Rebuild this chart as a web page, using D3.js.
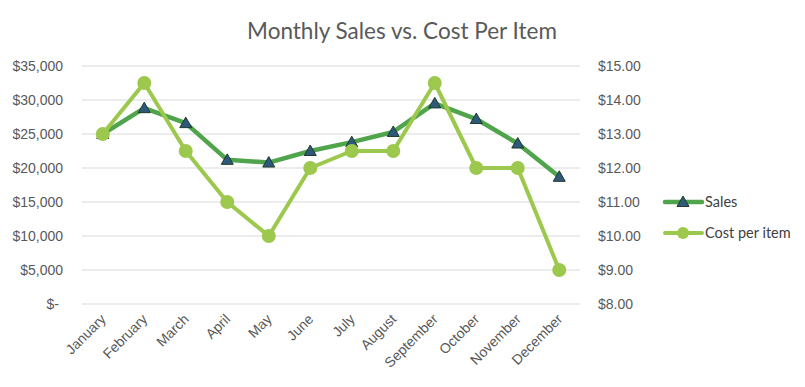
<!DOCTYPE html>
<html><head><meta charset="utf-8">
<script src="https://cdn.jsdelivr.net/npm/d3@7"></script>
<style>body{margin:0;background:#fff}svg{display:block}</style>
</head><body>
<script>
const months = ["January","February","March","April","May","June","July","August","September","October","November","December"];
const sales = [25000,28800,26600,21200,20800,22500,23800,25300,29500,27200,23600,18700];
const costPerItem = [13.0,14.5,12.5,11.0,10.0,12.0,12.5,12.5,14.5,12.0,12.0,9.0];
const leftTicks = [0,5000,10000,15000,20000,25000,30000,35000];
const rightTicks = [8,9,10,11,12,13,14,15];
const seriesNames = ["Sales","Cost per item"];

const W=805,H=387;
const salesColor="#50A44B", costColor="#9DC84E", triFill="#2D5A7A", triStroke="#1F3A2A";
const svg=d3.select("body").append("svg").attr("width",W).attr("height",H);
const x=d3.scaleBand().domain(months).range([82,580]);
const yL=d3.scaleLinear().domain([0,35000]).range([304,66]);
const yR=d3.scaleLinear().domain([8,15]).range([304,66]);
const cx=m=>x(m)+x.bandwidth()/2;

svg.append("text").attr("x",402).attr("y",39).attr("text-anchor","middle")
  .attr("font-family","Lato, 'Open Sans', sans-serif").attr("font-size",22.5).attr("fill","#595959")
  .text("Monthly Sales vs. Cost Per Item");

// gridlines
svg.append("g").selectAll("line").data(leftTicks).join("line")
  .attr("x1",82).attr("x2",580).attr("y1",d=>yL(d)).attr("y2",d=>yL(d))
  .attr("stroke","#D9D9D9").attr("stroke-width",1);

const fmtL=d=>d===0?"$-":"$"+d3.format(",")(d);
const gl=svg.append("g").attr("transform","translate(63,0)")
  .call(d3.axisLeft(yL).tickValues(leftTicks).tickFormat(fmtL).tickSize(0).tickPadding(0));
gl.select(".domain").remove();
gl.selectAll("text").attr("font-family","'Liberation Sans', Arial, sans-serif").attr("font-size",14).attr("fill","#595959");
gl.selectAll(".tick").filter(d=>d===0).select("text").attr("dx",-4);

const gr=svg.append("g").attr("transform","translate(598,0)")
  .call(d3.axisRight(yR).tickValues(rightTicks).tickFormat(d=>"$"+d.toFixed(2)).tickSize(0).tickPadding(0));
gr.select(".domain").remove();
gr.selectAll("text").attr("font-family","'Liberation Sans', Arial, sans-serif").attr("font-size",14).attr("fill","#595959");

const gx=svg.append("g").attr("transform","translate(0,304)")
  .call(d3.axisBottom(x).tickSize(0).tickPadding(0));
gx.select(".domain").remove();
gx.selectAll("text").attr("font-family","'Liberation Sans', Arial, sans-serif").attr("font-size",14).attr("fill","#595959")
  .attr("text-anchor","end").attr("dy",0).attr("transform","translate(4,16) rotate(-45)");

// lines
const lineS=d3.line().x((d,i)=>cx(months[i])).y(d=>yL(d));
const lineC=d3.line().x((d,i)=>cx(months[i])).y(d=>yR(d));
svg.append("path").datum(sales).attr("d",lineS).attr("fill","none").attr("stroke",salesColor).attr("stroke-width",4.5).attr("stroke-linejoin","round");
svg.append("path").datum(costPerItem).attr("d",lineC).attr("fill","none").attr("stroke",costColor).attr("stroke-width",4).attr("stroke-linejoin","round");

const tri=(s)=>`M0,${-s*0.6}L${s*0.6},${s*0.45}L${-s*0.6},${s*0.45}Z`;
svg.append("g").selectAll("path").data(sales).join("path")
  .attr("d",tri(10)).attr("transform",(d,i)=>`translate(${cx(months[i])},${yL(d)})`)
  .attr("fill",triFill).attr("stroke",triStroke).attr("stroke-width",1);
svg.append("g").selectAll("circle").data(costPerItem).join("circle")
  .attr("cx",(d,i)=>cx(months[i])).attr("cy",d=>yR(d)).attr("r",7).attr("fill",costColor);

// legend
const leg=svg.append("g");
const ly=[202,233];
leg.append("line").attr("x1",665).attr("x2",702).attr("y1",ly[0]).attr("y2",ly[0]).attr("stroke",salesColor).attr("stroke-width",4.5).attr("stroke-linecap","round");
leg.append("path").attr("d",tri(10)).attr("transform",`translate(683,${ly[0]})`).attr("fill",triFill).attr("stroke",triStroke);
leg.append("line").attr("x1",665).attr("x2",702).attr("y1",ly[1]).attr("y2",ly[1]).attr("stroke",costColor).attr("stroke-width",4).attr("stroke-linecap","round");
leg.append("circle").attr("cx",683).attr("cy",ly[1]).attr("r",6).attr("fill",costColor);
leg.selectAll("text").data(seriesNames).join("text")
  .attr("x",705).attr("y",(d,i)=>ly[i]+5).attr("font-family","Lato, 'Open Sans', sans-serif").attr("font-size",14.5).attr("fill","#404040").text(d=>d);
</script>
</body></html>
